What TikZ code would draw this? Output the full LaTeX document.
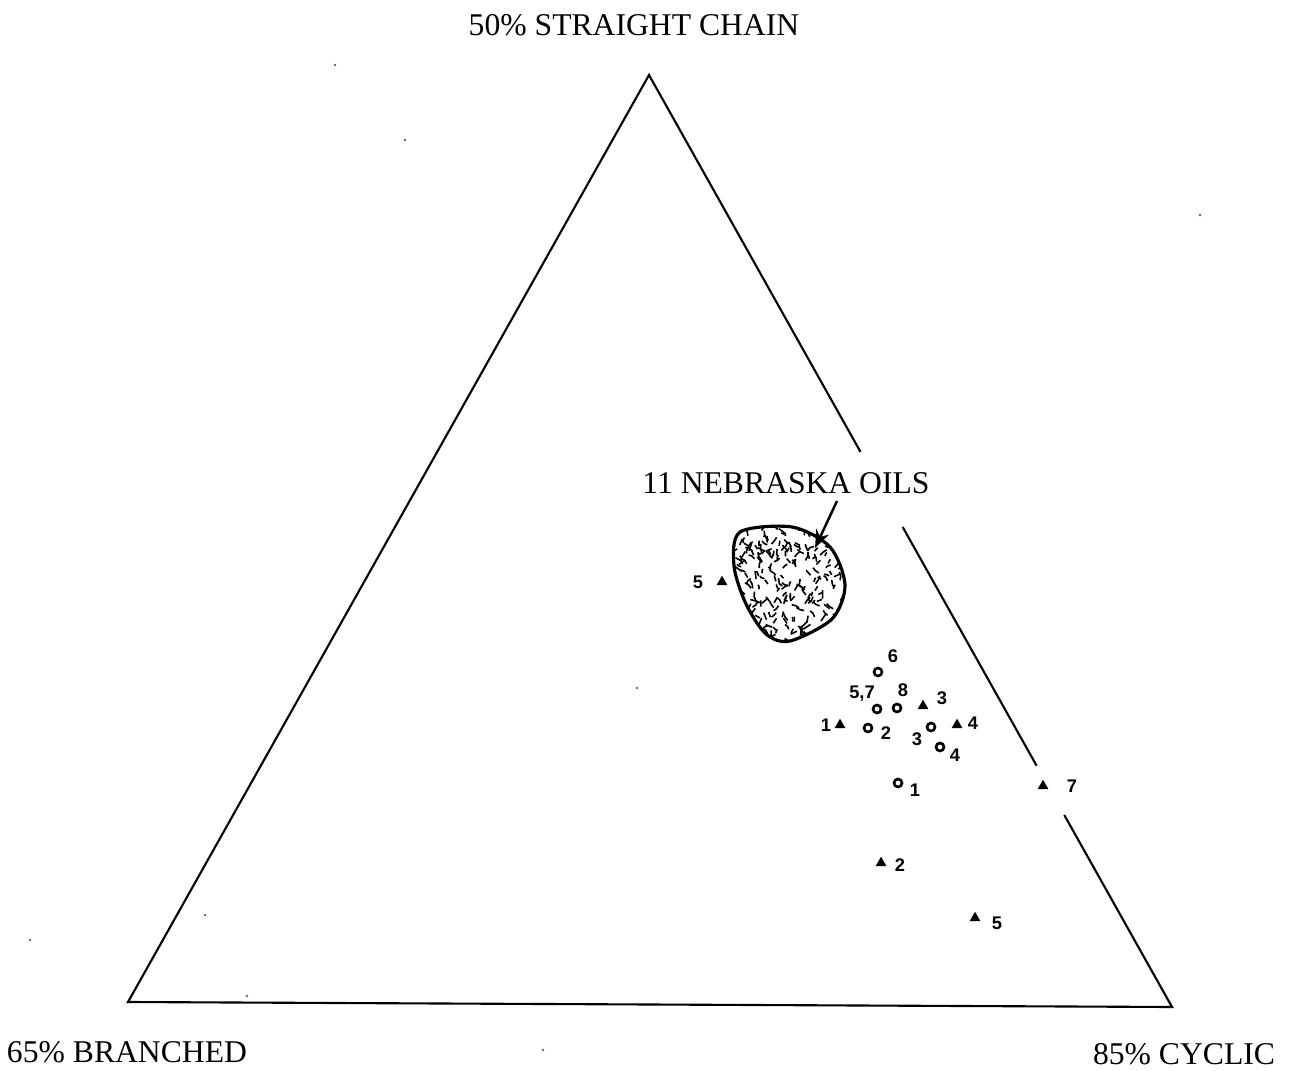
\documentclass[tikz,border=0pt]{standalone}
\usepackage{fontspec}
\setmainfont{Liberation Serif}
\setsansfont{Liberation Sans}
\usetikzlibrary{arrows.meta, positioning, shapes.geometric, calc}
\tikzset{
  every picture/.style={line width=0.6pt},
  corner/.style={font=\fontsize{9}{11}\selectfont, inner sep=0pt},
  tri/.style={regular polygon, regular polygon sides=3, fill=black, inner sep=0pt, minimum size=0.125cm},
  circ/.style={circle, draw, line width=0.75pt, inner sep=0pt, minimum size=0.08cm},
  num/.style={font=\sffamily\bfseries\fontsize{5.2}{6}\selectfont, inner sep=0pt},
  speck/.style={fill=black!60},
  arrow/.style={-{Stealth[length=1.8mm, width=1.4mm]}, line width=0.7pt},
}

\begin{document}
\begin{tikzpicture}[x=0.01cm, y=-0.01cm]
  \useasboundingbox (0,0) rectangle (1295,1071);
  % the ternary triangle, right side broken round the labels
  \coordinate (apex) at (649,75);
  \coordinate (bl) at (128,1002);
  \coordinate (br) at (1172,1007);
  \coordinate (ga) at ($(apex)!0.4045!(br)$);
  \coordinate (gb) at ($(apex)!0.485!(br)$);
  \coordinate (gc) at ($(apex)!0.741!(br)$);
  \coordinate (gd) at ($(apex)!0.794!(br)$);
  \draw (gd) -- (br) -- (bl) -- (apex) -- (ga);
  \draw (gb) -- (gc);
  % corner labels
  \node[corner] (sc) at (634,25) {50\% STRAIGHT CHAIN};
  \node[corner] (br65) at (127,1052) {65\% BRANCHED};
  \node[corner] (cy85) at (1184,1054) {85\% CYCLIC};
  % the Nebraska oils field
  \begin{scope}
    \clip plot[smooth cycle] coordinates {(740,532) (792,527) (830,547) (845,585) (832,619) (790,641) (766,634) (746,604) (734,566)};
    \pgfmathsetseed{11}
    \foreach \k in {1,...,300}{
      \pgfmathsetmacro\px{728+122*rnd}
      \pgfmathsetmacro\py{522+124*rnd}
      \pgfmathsetmacro\pa{20+140*rnd}
      \pgfmathsetmacro\pl{4+5*rnd}
      \pgfmathsetmacro\pb{60*rnd-30}
      \draw[line width=0.45pt] (\px,\py) to[bend left=\pb] ++(\pa:\pl);
    }
  \end{scope}
  \draw[line width=0.9pt] plot[smooth cycle] coordinates {(740,532) (792,527) (830,547) (845,585) (832,619) (790,641) (766,634) (746,604) (734,566)};
  \node[corner] (neb) at (786,483) {11 NEBRASKA OILS};
  \coordinate (nebtail) at (837,501);
  \coordinate (nebtip) at (815,548);
  \draw[arrow] (nebtail) -- (nebtip);
  % samples: circles
  \node[circ] (c6) at (878,672) {};
  \node[num] (l6) at (893,656) {6};
  \node[circ] (c57) at (877,709) {};
  \node[num] (l57) at (862,694) {5,7};
  \node[circ] (c8) at (897,708) {};
  \node[num] (l8) at (903,690) {8};
  \node[circ] (c2) at (868,728) {};
  \node[num] (l2) at (886,733) {2};
  \node[circ] (c3) at (931,727) {};
  \node[num] (l3) at (917,739) {3};
  \node[circ] (c4) at (940,747) {};
  \node[num] (l4) at (955,755) {4};
  \node[circ] (c1) at (898,783) {};
  \node[num] (l1) at (915,790) {1};
  % samples: triangles
  \node[tri] (t5b) at (722,582) {};
  \node[num] (lt5b) at (698,582) {5};
  \node[tri] (t3) at (923,706) {};
  \node[num] (lt3) at (942,698) {3};
  \node[tri] (t1) at (840,725) {};
  \node[num] (lt1) at (826,725) {1};
  \node[tri] (t4) at (957,725) {};
  \node[num] (lt4) at (973,723) {4};
  \node[tri] (t7) at (1043,786) {};
  \node[num] (lt7) at (1072,786) {7};
  \node[tri] (t2) at (881,863) {};
  \node[num] (lt2) at (900,865) {2};
  \node[tri] (t5) at (975,918) {};
  \node[num] (lt5) at (997,923) {5};
  % specks of the scan
  \foreach \sx/\sy in {335/65, 405/140, 1200/215, 637/688, 205/915, 30/940, 247/996, 543/1050}
    \fill[speck] (\sx,\sy) circle (1.3);
\end{tikzpicture}
\end{document}
